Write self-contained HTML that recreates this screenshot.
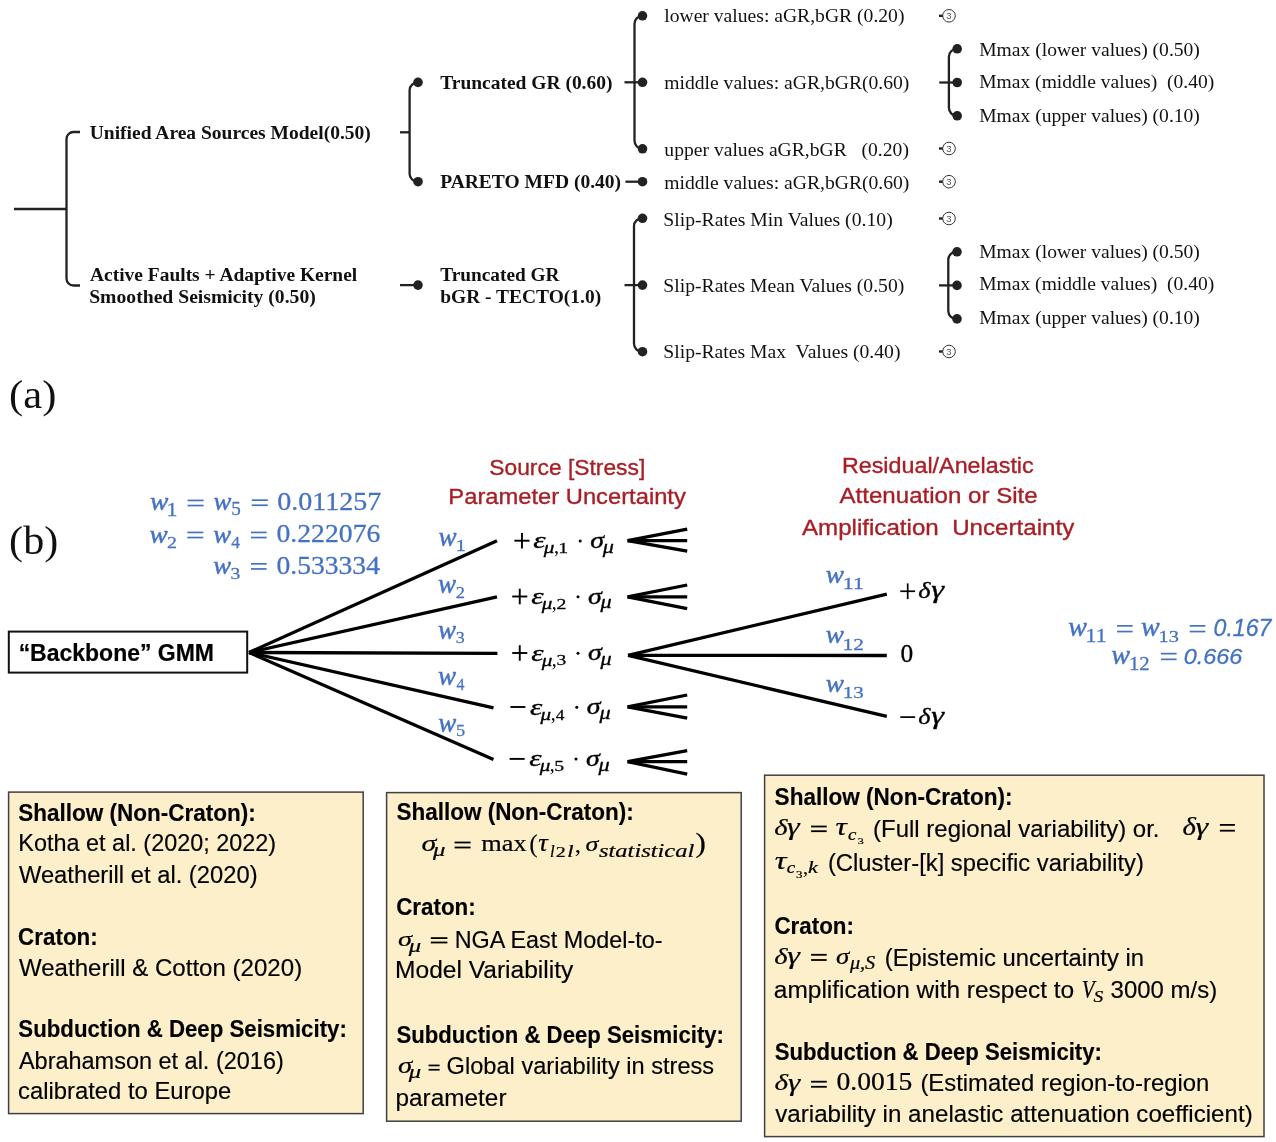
<!DOCTYPE html>
<html><head><meta charset="utf-8"><style>
html,body{margin:0;padding:0;background:#fff;overflow:hidden;}
svg{display:block;will-change:transform;}
</style></head><body>
<svg width="1276" height="1142" viewBox="0 0 1276 1142">
<line x1="14" y1="209" x2="66.5" y2="209" stroke="#222" stroke-width="2.3"/>
<path d="M80 132 L73.5 132 A7 7 0 0 0 66.5 139 L66.5 278.5 A7 7 0 0 0 73.5 285.5 L80 285.5" fill="none" stroke="#222" stroke-width="2.3"/>
<text transform="translate(89.71 139.40) scale(1.0012 1)" font-family="Liberation Serif" font-style="normal" font-weight="bold" font-size="19.50" fill="#111" style="white-space:pre">Unified Area Sources Model(0.50)</text>
<text transform="translate(90.01 281.10) scale(0.9986 1)" font-family="Liberation Serif" font-style="normal" font-weight="bold" font-size="19.50" fill="#111" style="white-space:pre">Active Faults + Adaptive Kernel</text>
<text transform="translate(89.17 302.90) scale(1.0086 1)" font-family="Liberation Serif" font-style="normal" font-weight="bold" font-size="19.50" fill="#111" style="white-space:pre">Smoothed Seismicity (0.50)</text>
<line x1="400" y1="132.3" x2="409.6" y2="132.3" stroke="#222" stroke-width="2.3"/>
<path d="M418 82.4 A8 8 0 0 0 409.6 90.4 L409.6 173.7 A8 8 0 0 0 418 181.7" fill="none" stroke="#222" stroke-width="2.3"/>
<circle cx="418" cy="82.4" r="4.8" fill="#222"/>
<circle cx="418" cy="181.7" r="4.8" fill="#222"/>
<line x1="400" y1="285.1" x2="418" y2="285.1" stroke="#222" stroke-width="2.3"/>
<circle cx="418" cy="285.1" r="4.8" fill="#222"/>
<text transform="translate(440.21 89.10) scale(0.9997 1)" font-family="Liberation Serif" font-style="normal" font-weight="bold" font-size="19.50" fill="#111" style="white-space:pre">Truncated GR (0.60)</text>
<text transform="translate(440.16 188.20) scale(1.0017 1)" font-family="Liberation Serif" font-style="normal" font-weight="bold" font-size="19.50" fill="#111" style="white-space:pre">PARETO MFD (0.40)</text>
<text transform="translate(440.21 280.90) scale(0.9916 1)" font-family="Liberation Serif" font-style="normal" font-weight="bold" font-size="19.50" fill="#111" style="white-space:pre">Truncated GR</text>
<text transform="translate(440.26 303.30) scale(0.9985 1)" font-family="Liberation Serif" font-style="normal" font-weight="bold" font-size="19.50" fill="#111" style="white-space:pre">bGR - TECTO(1.0)</text>
<path d="M642.5 15.8 A8 8 0 0 0 634.5 23.8 L634.5 140.8 A8 8 0 0 0 642.5 148.8" fill="none" stroke="#222" stroke-width="2.3"/>
<circle cx="642.5" cy="15.8" r="4.8" fill="#222"/>
<circle cx="642.5" cy="82.3" r="4.8" fill="#222"/>
<circle cx="642.5" cy="148.8" r="4.8" fill="#222"/>
<line x1="624.5" y1="82.3" x2="642.5" y2="82.3" stroke="#222" stroke-width="2.3"/>
<line x1="625.4" y1="181.7" x2="642.5" y2="181.7" stroke="#222" stroke-width="2.3"/>
<circle cx="642.5" cy="181.7" r="4.8" fill="#222"/>
<path d="M642.5 218.3 A8 8 0 0 0 634 226.3 L634 343.7 A8 8 0 0 0 642.5 351.7" fill="none" stroke="#222" stroke-width="2.3"/>
<circle cx="642.5" cy="218.3" r="4.8" fill="#222"/>
<circle cx="642.5" cy="285.1" r="4.8" fill="#222"/>
<circle cx="642.5" cy="351.7" r="4.8" fill="#222"/>
<line x1="624.5" y1="285.1" x2="642.5" y2="285.1" stroke="#222" stroke-width="2.3"/>
<text transform="translate(664.21 22.40) scale(1.0069 1)" font-family="Liberation Serif" font-style="normal" font-weight="normal" font-size="19.50" fill="#111" style="white-space:pre">lower values: aGR,bGR (0.20)</text>
<text transform="translate(664.21 89.30) scale(1.0071 1)" font-family="Liberation Serif" font-style="normal" font-weight="normal" font-size="19.50" fill="#111" style="white-space:pre">middle values: aGR,bGR(0.60)</text>
<text transform="translate(664.35 155.60) scale(1.0068 1)" font-family="Liberation Serif" font-style="normal" font-weight="normal" font-size="19.50" fill="#111" style="white-space:pre">upper values aGR,bGR   (0.20)</text>
<text transform="translate(664.21 188.50) scale(1.0071 1)" font-family="Liberation Serif" font-style="normal" font-weight="normal" font-size="19.50" fill="#111" style="white-space:pre">middle values: aGR,bGR(0.60)</text>
<text transform="translate(663.27 225.70) scale(1.0106 1)" font-family="Liberation Serif" font-style="normal" font-weight="normal" font-size="19.50" fill="#111" style="white-space:pre">Slip-Rates Min Values (0.10)</text>
<text transform="translate(663.27 292.00) scale(1.0088 1)" font-family="Liberation Serif" font-style="normal" font-weight="normal" font-size="19.50" fill="#111" style="white-space:pre">Slip-Rates Mean Values (0.50)</text>
<text transform="translate(663.27 358.20) scale(1.0085 1)" font-family="Liberation Serif" font-style="normal" font-weight="normal" font-size="19.50" fill="#111" style="white-space:pre">Slip-Rates Max  Values (0.40)</text>
<circle cx="949" cy="15.8" r="6.3" fill="#fff" stroke="#333" stroke-width="1"/>
<line x1="939" y1="15.8" x2="942.7" y2="15.8" stroke="#222" stroke-width="2.4"/>
<text x="949" y="19.1" text-anchor="middle" font-family="Liberation Sans" font-size="9.5" fill="#555">3</text>
<circle cx="949" cy="148.5" r="6.3" fill="#fff" stroke="#333" stroke-width="1"/>
<line x1="939" y1="148.5" x2="942.7" y2="148.5" stroke="#222" stroke-width="2.4"/>
<text x="949" y="151.8" text-anchor="middle" font-family="Liberation Sans" font-size="9.5" fill="#555">3</text>
<circle cx="949" cy="181.7" r="6.3" fill="#fff" stroke="#333" stroke-width="1"/>
<line x1="939" y1="181.7" x2="942.7" y2="181.7" stroke="#222" stroke-width="2.4"/>
<text x="949" y="185.0" text-anchor="middle" font-family="Liberation Sans" font-size="9.5" fill="#555">3</text>
<circle cx="949" cy="218.5" r="6.3" fill="#fff" stroke="#333" stroke-width="1"/>
<line x1="939" y1="218.5" x2="942.7" y2="218.5" stroke="#222" stroke-width="2.4"/>
<text x="949" y="221.8" text-anchor="middle" font-family="Liberation Sans" font-size="9.5" fill="#555">3</text>
<circle cx="949" cy="351.5" r="6.3" fill="#fff" stroke="#333" stroke-width="1"/>
<line x1="939" y1="351.5" x2="942.7" y2="351.5" stroke="#222" stroke-width="2.4"/>
<text x="949" y="354.8" text-anchor="middle" font-family="Liberation Sans" font-size="9.5" fill="#555">3</text>
<path d="M957.2 48.8 A8 8 0 0 0 948.9 56.8 L948.9 107.8 A8 8 0 0 0 957.2 115.8" fill="none" stroke="#222" stroke-width="2.3"/>
<circle cx="957.2" cy="48.8" r="4.8" fill="#222"/>
<circle cx="957.2" cy="82.5" r="4.8" fill="#222"/>
<circle cx="957.2" cy="115.8" r="4.8" fill="#222"/>
<line x1="939.3" y1="82.5" x2="957.2" y2="82.5" stroke="#222" stroke-width="2.3"/>
<path d="M957 251.8 A8 8 0 0 0 948.3 259.8 L948.3 310.9 A8 8 0 0 0 957 318.9" fill="none" stroke="#222" stroke-width="2.3"/>
<circle cx="957" cy="251.8" r="4.8" fill="#222"/>
<circle cx="957" cy="285.4" r="4.8" fill="#222"/>
<circle cx="957" cy="318.9" r="4.8" fill="#222"/>
<line x1="939" y1="285.4" x2="957" y2="285.4" stroke="#222" stroke-width="2.3"/>
<text transform="translate(979.21 55.60) scale(1.0041 1)" font-family="Liberation Serif" font-style="normal" font-weight="normal" font-size="19.50" fill="#111" style="white-space:pre">Mmax (lower values) (0.50)</text>
<text transform="translate(979.21 88.20) scale(1.0029 1)" font-family="Liberation Serif" font-style="normal" font-weight="normal" font-size="19.50" fill="#111" style="white-space:pre">Mmax (middle values)  (0.40)</text>
<text transform="translate(979.21 122.10) scale(1.0041 1)" font-family="Liberation Serif" font-style="normal" font-weight="normal" font-size="19.50" fill="#111" style="white-space:pre">Mmax (upper values) (0.10)</text>
<text transform="translate(979.21 257.80) scale(1.0041 1)" font-family="Liberation Serif" font-style="normal" font-weight="normal" font-size="19.50" fill="#111" style="white-space:pre">Mmax (lower values) (0.50)</text>
<text transform="translate(979.21 290.40) scale(1.0029 1)" font-family="Liberation Serif" font-style="normal" font-weight="normal" font-size="19.50" fill="#111" style="white-space:pre">Mmax (middle values)  (0.40)</text>
<text transform="translate(979.21 324.30) scale(1.0041 1)" font-family="Liberation Serif" font-style="normal" font-weight="normal" font-size="19.50" fill="#111" style="white-space:pre">Mmax (upper values) (0.10)</text>
<text transform="translate(9.08 407.78) scale(1.0517 1)" font-family="Liberation Serif" font-style="normal" font-weight="normal" font-size="40.55" fill="#111">(a)</text>
<text transform="translate(9.10 554.28) scale(1.0391 1)" font-family="Liberation Serif" font-style="normal" font-weight="normal" font-size="40.55" fill="#111">(b)</text>
<text transform="translate(149.91 510.25) scale(1.0885 1)" font-family="Liberation Serif" font-style="italic" font-weight="normal" font-size="25.32" fill="#4472c4" stroke="#4472c4" stroke-width="0.45">w</text>
<text transform="translate(166.49 515.60) scale(1.2115 1)" font-family="Liberation Serif" font-style="normal" font-weight="normal" font-size="18.03" fill="#4472c4" stroke="#4472c4" stroke-width="0.27">1</text>
<rect x="187.60" y="499.60" width="16.00" height="1.70" fill="#4472c4"/><rect x="187.60" y="504.70" width="16.00" height="1.70" fill="#4472c4"/>
<text transform="translate(213.43 510.25) scale(1.0574 1)" font-family="Liberation Serif" font-style="italic" font-weight="normal" font-size="25.32" fill="#4472c4" stroke="#4472c4" stroke-width="0.45">w</text>
<text transform="translate(231.30 515.42) scale(1.0691 1)" font-family="Liberation Serif" font-style="normal" font-weight="normal" font-size="17.89" fill="#4472c4" stroke="#4472c4" stroke-width="0.27">5</text>
<rect x="251.80" y="499.30" width="16.00" height="1.70" fill="#4472c4"/><rect x="251.80" y="504.40" width="16.00" height="1.70" fill="#4472c4"/>
<text transform="translate(277.25 510.03) scale(1.1352 1)" font-family="Liberation Serif" font-style="normal" font-weight="normal" font-size="24.71" fill="#4472c4" stroke="#4472c4" stroke-width="0.27">0.011257</text>
<text transform="translate(149.52 542.75) scale(1.1039 1)" font-family="Liberation Serif" font-style="italic" font-weight="normal" font-size="24.68" fill="#4472c4" stroke="#4472c4" stroke-width="0.45">w</text>
<text transform="translate(166.90 548.20) scale(1.1422 1)" font-family="Liberation Serif" font-style="normal" font-weight="normal" font-size="17.51" fill="#4472c4" stroke="#4472c4" stroke-width="0.27">2</text>
<rect x="187.30" y="531.60" width="16.00" height="1.70" fill="#4472c4"/><rect x="187.30" y="536.70" width="16.00" height="1.70" fill="#4472c4"/>
<text transform="translate(213.23 542.75) scale(1.0847 1)" font-family="Liberation Serif" font-style="italic" font-weight="normal" font-size="24.68" fill="#4472c4" stroke="#4472c4" stroke-width="0.45">w</text>
<text transform="translate(231.15 548.20) scale(0.9873 1)" font-family="Liberation Serif" font-style="normal" font-weight="normal" font-size="17.64" fill="#4472c4" stroke="#4472c4" stroke-width="0.27">4</text>
<rect x="251.00" y="531.60" width="15.60" height="1.70" fill="#4472c4"/><rect x="251.00" y="536.70" width="15.60" height="1.70" fill="#4472c4"/>
<text transform="translate(276.46 542.43) scale(1.1090 1)" font-family="Liberation Serif" font-style="normal" font-weight="normal" font-size="25.00" fill="#4472c4" stroke="#4472c4" stroke-width="0.27">0.222076</text>
<text transform="translate(213.23 574.26) scale(1.0941 1)" font-family="Liberation Serif" font-style="italic" font-weight="normal" font-size="24.47" fill="#4472c4" stroke="#4472c4" stroke-width="0.45">w</text>
<text transform="translate(230.57 579.42) scale(1.1191 1)" font-family="Liberation Serif" font-style="normal" font-weight="normal" font-size="17.55" fill="#4472c4" stroke="#4472c4" stroke-width="0.27">3</text>
<rect x="251.00" y="563.00" width="15.60" height="1.70" fill="#4472c4"/><rect x="251.00" y="568.10" width="15.60" height="1.70" fill="#4472c4"/>
<text transform="translate(276.46 574.23) scale(1.1177 1)" font-family="Liberation Serif" font-style="normal" font-weight="normal" font-size="24.71" fill="#4472c4" stroke="#4472c4" stroke-width="0.27">0.533334</text>
<text transform="translate(489.27 474.70) scale(1.0146 1)" font-family="Liberation Sans" font-style="normal" font-weight="normal" font-size="22.50" fill="#a81e25" stroke="#a81e25" stroke-width="0.35" style="white-space:pre">Source [Stress]</text>
<text transform="translate(448.34 504.30) scale(1.0554 1)" font-family="Liberation Sans" font-style="normal" font-weight="normal" font-size="22.50" fill="#a81e25" stroke="#a81e25" stroke-width="0.35" style="white-space:pre">Parameter Uncertainty</text>
<text transform="translate(841.88 472.70) scale(1.0370 1)" font-family="Liberation Sans" font-style="normal" font-weight="normal" font-size="22.50" fill="#a81e25" stroke="#a81e25" stroke-width="0.35" style="white-space:pre">Residual/Anelastic</text>
<text transform="translate(839.54 503.30) scale(1.0709 1)" font-family="Liberation Sans" font-style="normal" font-weight="normal" font-size="22.50" fill="#a81e25" stroke="#a81e25" stroke-width="0.35" style="white-space:pre">Attenuation or Site</text>
<text transform="translate(801.94 535.00) scale(1.0731 1)" font-family="Liberation Sans" font-style="normal" font-weight="normal" font-size="22.50" fill="#a81e25" stroke="#a81e25" stroke-width="0.35" style="white-space:pre">Amplification  Uncertainty</text>
<rect x="8.8" y="631.6" width="238.4" height="41" fill="#fff" stroke="#111" stroke-width="2"/>
<text transform="translate(18.63 660.50) scale(0.9785 1)" font-family="Liberation Sans" font-style="normal" font-weight="bold" font-size="23.50" fill="#000" stroke="#000" stroke-width="0.2" style="white-space:pre">“Backbone” GMM</text>
<line x1="249" y1="652.5" x2="497" y2="540.8" stroke="#000" stroke-width="3.3"/>
<line x1="249" y1="652.5" x2="497" y2="596.9" stroke="#000" stroke-width="3.3"/>
<line x1="249" y1="652.5" x2="497.4" y2="653.4" stroke="#000" stroke-width="3.3"/>
<line x1="249" y1="652.5" x2="493.5" y2="707.8" stroke="#000" stroke-width="3.3"/>
<line x1="249" y1="652.5" x2="493.5" y2="759.4" stroke="#000" stroke-width="3.3"/>
<text transform="translate(438.62 546.03) scale(1.0024 1)" font-family="Liberation Serif" font-style="italic" font-weight="normal" font-size="27.02" fill="#4472c4" stroke="#4472c4" stroke-width="0.45">w</text>
<text transform="translate(455.46 551.00) scale(1.2048 1)" font-family="Liberation Serif" font-style="normal" font-weight="normal" font-size="17.42" fill="#4472c4" stroke="#4472c4" stroke-width="0.27">1</text>
<text transform="translate(437.92 593.03) scale(1.0024 1)" font-family="Liberation Serif" font-style="italic" font-weight="normal" font-size="27.02" fill="#4472c4" stroke="#4472c4" stroke-width="0.45">w</text>
<text transform="translate(455.77 598.00) scale(1.0658 1)" font-family="Liberation Serif" font-style="normal" font-weight="normal" font-size="17.36" fill="#4472c4" stroke="#4472c4" stroke-width="0.27">2</text>
<text transform="translate(437.92 638.53) scale(1.0024 1)" font-family="Liberation Serif" font-style="italic" font-weight="normal" font-size="27.02" fill="#4472c4" stroke="#4472c4" stroke-width="0.45">w</text>
<text transform="translate(455.75 643.33) scale(1.0491 1)" font-family="Liberation Serif" font-style="normal" font-weight="normal" font-size="17.10" fill="#4472c4" stroke="#4472c4" stroke-width="0.27">3</text>
<text transform="translate(438.12 684.63) scale(1.0024 1)" font-family="Liberation Serif" font-style="italic" font-weight="normal" font-size="27.02" fill="#4472c4" stroke="#4472c4" stroke-width="0.45">w</text>
<text transform="translate(456.48 689.60) scale(0.9099 1)" font-family="Liberation Serif" font-style="normal" font-weight="normal" font-size="17.49" fill="#4472c4" stroke="#4472c4" stroke-width="0.27">4</text>
<text transform="translate(438.32 731.53) scale(1.0024 1)" font-family="Liberation Serif" font-style="italic" font-weight="normal" font-size="27.02" fill="#4472c4" stroke="#4472c4" stroke-width="0.45">w</text>
<text transform="translate(455.94 736.33) scale(1.0631 1)" font-family="Liberation Serif" font-style="normal" font-weight="normal" font-size="17.29" fill="#4472c4" stroke="#4472c4" stroke-width="0.27">5</text>
<rect x="514.40" y="539.75" width="15.10" height="1.90" fill="#000"/><rect x="521.00" y="532.90" width="1.90" height="15.60" fill="#000"/>
<text transform="translate(533.34 548.26) scale(1.3000 1)" font-family="Liberation Serif" font-style="italic" font-weight="normal" font-size="23.96" fill="#000" stroke="#000" stroke-width="0.35">ε</text>
<text transform="translate(543.85 553.20) scale(1.3000 1)" font-family="Liberation Serif" font-style="italic" font-weight="normal" font-size="16.30" fill="#000" stroke="#000" stroke-width="0.3">μ</text>
<text transform="translate(554.05 553.25) scale(1.0000 1)" font-family="Liberation Serif" font-style="normal" font-weight="normal" font-size="20.00" fill="#000">,</text>
<text transform="translate(558.30 553.20) scale(1.3000 1)" font-family="Liberation Serif" font-style="normal" font-weight="normal" font-size="15.30" fill="#000" stroke="#000" stroke-width="0.25">1</text>
<circle cx="580.20" cy="540.90" r="1.5" fill="#000"/>
<text transform="translate(590.16 547.98) scale(1.2618 1)" font-family="Liberation Serif" font-style="italic" font-weight="normal" font-size="22.10" fill="#000" stroke="#000" stroke-width="0.35">σ</text>
<text transform="translate(602.80 552.55) scale(1.2110 1)" font-family="Liberation Serif" font-style="italic" font-weight="normal" font-size="18.37" fill="#000" stroke="#000" stroke-width="0.3">μ</text>
<rect x="512.20" y="595.55" width="15.10" height="1.90" fill="#000"/><rect x="518.80" y="588.70" width="1.90" height="15.60" fill="#000"/>
<text transform="translate(531.14 604.06) scale(1.3000 1)" font-family="Liberation Serif" font-style="italic" font-weight="normal" font-size="23.96" fill="#000" stroke="#000" stroke-width="0.35">ε</text>
<text transform="translate(541.65 609.00) scale(1.3000 1)" font-family="Liberation Serif" font-style="italic" font-weight="normal" font-size="16.30" fill="#000" stroke="#000" stroke-width="0.3">μ</text>
<text transform="translate(551.85 609.05) scale(1.0000 1)" font-family="Liberation Serif" font-style="normal" font-weight="normal" font-size="20.00" fill="#000">,</text>
<text transform="translate(556.49 609.00) scale(1.3000 1)" font-family="Liberation Serif" font-style="normal" font-weight="normal" font-size="15.25" fill="#000" stroke="#000" stroke-width="0.25">2</text>
<circle cx="578.00" cy="596.70" r="1.5" fill="#000"/>
<text transform="translate(587.96 603.78) scale(1.2618 1)" font-family="Liberation Serif" font-style="italic" font-weight="normal" font-size="22.10" fill="#000" stroke="#000" stroke-width="0.35">σ</text>
<text transform="translate(600.60 608.35) scale(1.2110 1)" font-family="Liberation Serif" font-style="italic" font-weight="normal" font-size="18.37" fill="#000" stroke="#000" stroke-width="0.3">μ</text>
<rect x="512.20" y="652.05" width="15.10" height="1.90" fill="#000"/><rect x="518.80" y="645.20" width="1.90" height="15.60" fill="#000"/>
<text transform="translate(531.14 660.56) scale(1.3000 1)" font-family="Liberation Serif" font-style="italic" font-weight="normal" font-size="23.96" fill="#000" stroke="#000" stroke-width="0.35">ε</text>
<text transform="translate(541.65 665.50) scale(1.3000 1)" font-family="Liberation Serif" font-style="italic" font-weight="normal" font-size="16.30" fill="#000" stroke="#000" stroke-width="0.3">μ</text>
<text transform="translate(551.85 665.55) scale(1.0000 1)" font-family="Liberation Serif" font-style="normal" font-weight="normal" font-size="20.00" fill="#000">,</text>
<text transform="translate(556.40 665.35) scale(1.3000 1)" font-family="Liberation Serif" font-style="normal" font-weight="normal" font-size="15.02" fill="#000" stroke="#000" stroke-width="0.25">3</text>
<circle cx="578.00" cy="653.20" r="1.5" fill="#000"/>
<text transform="translate(587.96 660.28) scale(1.2618 1)" font-family="Liberation Serif" font-style="italic" font-weight="normal" font-size="22.10" fill="#000" stroke="#000" stroke-width="0.35">σ</text>
<text transform="translate(600.60 664.85) scale(1.2110 1)" font-family="Liberation Serif" font-style="italic" font-weight="normal" font-size="18.37" fill="#000" stroke="#000" stroke-width="0.3">μ</text>
<rect x="510.40" y="706.05" width="15.00" height="1.90" fill="#000"/>
<text transform="translate(529.94 714.56) scale(1.3000 1)" font-family="Liberation Serif" font-style="italic" font-weight="normal" font-size="23.96" fill="#000" stroke="#000" stroke-width="0.35">ε</text>
<text transform="translate(540.45 719.50) scale(1.3000 1)" font-family="Liberation Serif" font-style="italic" font-weight="normal" font-size="16.30" fill="#000" stroke="#000" stroke-width="0.3">μ</text>
<text transform="translate(550.65 719.55) scale(1.0000 1)" font-family="Liberation Serif" font-style="normal" font-weight="normal" font-size="20.00" fill="#000">,</text>
<text transform="translate(555.75 719.50) scale(1.1340 1)" font-family="Liberation Serif" font-style="normal" font-weight="normal" font-size="15.36" fill="#000" stroke="#000" stroke-width="0.25">4</text>
<circle cx="576.80" cy="707.20" r="1.5" fill="#000"/>
<text transform="translate(586.76 714.28) scale(1.2618 1)" font-family="Liberation Serif" font-style="italic" font-weight="normal" font-size="22.10" fill="#000" stroke="#000" stroke-width="0.35">σ</text>
<text transform="translate(599.40 718.85) scale(1.2110 1)" font-family="Liberation Serif" font-style="italic" font-weight="normal" font-size="18.37" fill="#000" stroke="#000" stroke-width="0.3">μ</text>
<rect x="509.60" y="757.95" width="15.00" height="1.90" fill="#000"/>
<text transform="translate(529.14 766.46) scale(1.3000 1)" font-family="Liberation Serif" font-style="italic" font-weight="normal" font-size="23.96" fill="#000" stroke="#000" stroke-width="0.35">ε</text>
<text transform="translate(539.65 771.40) scale(1.3000 1)" font-family="Liberation Serif" font-style="italic" font-weight="normal" font-size="16.30" fill="#000" stroke="#000" stroke-width="0.3">μ</text>
<text transform="translate(549.85 771.45) scale(1.0000 1)" font-family="Liberation Serif" font-style="normal" font-weight="normal" font-size="20.00" fill="#000">,</text>
<text transform="translate(554.24 771.25) scale(1.3000 1)" font-family="Liberation Serif" font-style="normal" font-weight="normal" font-size="15.19" fill="#000" stroke="#000" stroke-width="0.25">5</text>
<circle cx="576.00" cy="759.10" r="1.5" fill="#000"/>
<text transform="translate(585.96 766.18) scale(1.2618 1)" font-family="Liberation Serif" font-style="italic" font-weight="normal" font-size="22.10" fill="#000" stroke="#000" stroke-width="0.35">σ</text>
<text transform="translate(598.60 770.75) scale(1.2110 1)" font-family="Liberation Serif" font-style="italic" font-weight="normal" font-size="18.37" fill="#000" stroke="#000" stroke-width="0.3">μ</text>
<line x1="627.6" y1="540.6" x2="687.2" y2="529.2" stroke="#000" stroke-width="3.3"/>
<line x1="627.6" y1="540.6" x2="687.2" y2="540.6" stroke="#000" stroke-width="3.3"/>
<line x1="627.6" y1="540.6" x2="687.2" y2="551.2" stroke="#000" stroke-width="3.3"/>
<line x1="627.6" y1="596.9" x2="687.2" y2="585.0" stroke="#000" stroke-width="3.3"/>
<line x1="627.6" y1="596.9" x2="687.2" y2="596.9" stroke="#000" stroke-width="3.3"/>
<line x1="627.6" y1="596.9" x2="687.2" y2="608.6999999999999" stroke="#000" stroke-width="3.3"/>
<line x1="627.6" y1="706.8" x2="687.2" y2="695.0" stroke="#000" stroke-width="3.3"/>
<line x1="627.6" y1="706.8" x2="687.2" y2="706.8" stroke="#000" stroke-width="3.3"/>
<line x1="627.6" y1="706.8" x2="687.2" y2="718.1999999999999" stroke="#000" stroke-width="3.3"/>
<line x1="627.6" y1="761.7" x2="687.2" y2="750.6" stroke="#000" stroke-width="3.3"/>
<line x1="627.6" y1="761.7" x2="687.2" y2="761.7" stroke="#000" stroke-width="3.3"/>
<line x1="627.6" y1="761.7" x2="687.2" y2="774.2" stroke="#000" stroke-width="3.3"/>
<line x1="628" y1="655.3" x2="886.8" y2="594.1" stroke="#000" stroke-width="3.3"/>
<line x1="628" y1="655.3" x2="886.8" y2="655.5" stroke="#000" stroke-width="3.3"/>
<line x1="628" y1="655.3" x2="886.8" y2="716.4" stroke="#000" stroke-width="3.3"/>
<rect x="900.30" y="590.40" width="14.80" height="1.70" fill="#000"/><rect x="906.85" y="583.40" width="1.70" height="15.70" fill="#000"/>
<text transform="translate(918.31 597.76) scale(1.1105 1)" font-family="Liberation Serif" font-style="italic" font-weight="normal" font-size="23.75" fill="#000" stroke="#000" stroke-width="0.35">δ</text>
<text transform="translate(931.13 598.03) scale(1.2615 1)" font-family="Liberation Serif" font-style="italic" font-weight="normal" font-size="25.72" fill="#000" stroke="#000" stroke-width="0.35">γ</text>
<text transform="translate(900.55 662.15) scale(1.0210 1)" font-family="Liberation Serif" font-style="normal" font-weight="normal" font-size="24.89" fill="#000" stroke="#000" stroke-width="0.3">0</text>
<rect x="900.30" y="716.25" width="14.80" height="1.70" fill="#000"/>
<text transform="translate(918.31 723.56) scale(1.1171 1)" font-family="Liberation Serif" font-style="italic" font-weight="normal" font-size="23.60" fill="#000" stroke="#000" stroke-width="0.35">δ</text>
<text transform="translate(931.13 723.83) scale(1.2615 1)" font-family="Liberation Serif" font-style="italic" font-weight="normal" font-size="25.72" fill="#000" stroke="#000" stroke-width="0.35">γ</text>
<text transform="translate(825.72 582.94) scale(1.0671 1)" font-family="Liberation Serif" font-style="italic" font-weight="normal" font-size="25.53" fill="#4472c4" stroke="#4472c4" stroke-width="0.45">w</text>
<text transform="translate(842.78 589.00) scale(1.3000 1)" font-family="Liberation Serif" font-style="normal" font-weight="normal" font-size="16.97" fill="#4472c4" stroke="#4472c4" stroke-width="0.27">11</text>
<text transform="translate(825.72 643.44) scale(1.0671 1)" font-family="Liberation Serif" font-style="italic" font-weight="normal" font-size="25.53" fill="#4472c4" stroke="#4472c4" stroke-width="0.45">w</text>
<text transform="translate(842.62 649.50) scale(1.2693 1)" font-family="Liberation Serif" font-style="normal" font-weight="normal" font-size="16.91" fill="#4472c4" stroke="#4472c4" stroke-width="0.27">12</text>
<text transform="translate(825.72 692.34) scale(1.0671 1)" font-family="Liberation Serif" font-style="italic" font-weight="normal" font-size="25.53" fill="#4472c4" stroke="#4472c4" stroke-width="0.45">w</text>
<text transform="translate(842.65 698.23) scale(1.2663 1)" font-family="Liberation Serif" font-style="normal" font-weight="normal" font-size="16.65" fill="#4472c4" stroke="#4472c4" stroke-width="0.27">13</text>
<text transform="translate(1068.20 636.43) scale(1.0293 1)" font-family="Liberation Serif" font-style="italic" font-weight="normal" font-size="27.23" fill="#4472c4" stroke="#4472c4" stroke-width="0.45">w</text>
<text transform="translate(1085.59 641.80) scale(1.2113 1)" font-family="Liberation Serif" font-style="normal" font-weight="normal" font-size="18.03" fill="#4472c4" stroke="#4472c4" stroke-width="0.27">11</text>
<rect x="1117.00" y="625.00" width="15.60" height="1.70" fill="#4472c4"/><rect x="1117.00" y="630.70" width="15.60" height="1.70" fill="#4472c4"/>
<text transform="translate(1141.00 636.43) scale(1.0293 1)" font-family="Liberation Serif" font-style="italic" font-weight="normal" font-size="27.23" fill="#4472c4" stroke="#4472c4" stroke-width="0.45">w</text>
<text transform="translate(1158.51 641.62) scale(1.1529 1)" font-family="Liberation Serif" font-style="normal" font-weight="normal" font-size="17.70" fill="#4472c4" stroke="#4472c4" stroke-width="0.27">13</text>
<rect x="1189.70" y="625.00" width="15.70" height="1.70" fill="#4472c4"/><rect x="1189.70" y="630.70" width="15.70" height="1.70" fill="#4472c4"/>
<text transform="translate(1213.52 636.46) scale(0.9742 1)" font-family="Liberation Sans" font-style="italic" font-weight="normal" font-size="23.75" fill="#4472c4" stroke="#4472c4" stroke-width="0.3">0.167</text>
<text transform="translate(1111.30 664.33) scale(1.0432 1)" font-family="Liberation Serif" font-style="italic" font-weight="normal" font-size="27.02" fill="#4472c4" stroke="#4472c4" stroke-width="0.45">w</text>
<text transform="translate(1128.88 669.70) scale(1.1556 1)" font-family="Liberation Serif" font-style="normal" font-weight="normal" font-size="17.96" fill="#4472c4" stroke="#4472c4" stroke-width="0.27">12</text>
<rect x="1161.00" y="652.80" width="15.60" height="1.70" fill="#4472c4"/><rect x="1161.00" y="658.50" width="15.60" height="1.70" fill="#4472c4"/>
<text transform="translate(1183.80 664.38) scale(1.0419 1)" font-family="Liberation Sans" font-style="italic" font-weight="normal" font-size="22.47" fill="#4472c4" stroke="#4472c4" stroke-width="0.3">0.666</text>
<rect x="8.6" y="792.1" width="354.6" height="321.5" fill="#fcefc9" stroke="#404040" stroke-width="1.5"/>
<rect x="386.6" y="792.6" width="354.6" height="328.6" fill="#fcefc9" stroke="#404040" stroke-width="1.5"/>
<rect x="764.6" y="775.2" width="499.4" height="361.4" fill="#fcefc9" stroke="#404040" stroke-width="1.5"/>
<text transform="translate(18.33 820.60) scale(0.9656 1)" font-family="Liberation Sans" font-style="normal" font-weight="bold" font-size="23.30" fill="#000" stroke="#000" stroke-width="0.15" style="white-space:pre">Shallow (Non-Craton):</text>
<text transform="translate(18.37 851.10) scale(1.0052 1)" font-family="Liberation Sans" font-style="normal" font-weight="normal" font-size="23.30" fill="#000" stroke="#000" stroke-width="0.15" style="white-space:pre">Kotha et al. (2020; 2022)</text>
<text transform="translate(18.88 882.50) scale(1.0206 1)" font-family="Liberation Sans" font-style="normal" font-weight="normal" font-size="23.30" fill="#000" stroke="#000" stroke-width="0.15" style="white-space:pre">Weatherill et al. (2020)</text>
<text transform="translate(18.10 945.00) scale(0.9613 1)" font-family="Liberation Sans" font-style="normal" font-weight="bold" font-size="23.30" fill="#000" stroke="#000" stroke-width="0.15" style="white-space:pre">Craton:</text>
<text transform="translate(18.88 975.70) scale(1.0339 1)" font-family="Liberation Sans" font-style="normal" font-weight="normal" font-size="23.30" fill="#000" stroke="#000" stroke-width="0.15" style="white-space:pre">Weatherill &amp; Cotton (2020)</text>
<text transform="translate(18.33 1037.20) scale(0.9541 1)" font-family="Liberation Sans" font-style="normal" font-weight="bold" font-size="23.30" fill="#000" stroke="#000" stroke-width="0.15" style="white-space:pre">Subduction &amp; Deep Seismicity:</text>
<text transform="translate(18.94 1068.50) scale(1.0079 1)" font-family="Liberation Sans" font-style="normal" font-weight="normal" font-size="23.30" fill="#000" stroke="#000" stroke-width="0.15" style="white-space:pre">Abrahamson et al. (2016)</text>
<text transform="translate(17.99 1098.60) scale(1.0233 1)" font-family="Liberation Sans" font-style="normal" font-weight="normal" font-size="23.30" fill="#000" stroke="#000" stroke-width="0.15" style="white-space:pre">calibrated to Europe</text>
<text transform="translate(396.43 820.20) scale(0.9656 1)" font-family="Liberation Sans" font-style="normal" font-weight="bold" font-size="23.30" fill="#000" stroke="#000" stroke-width="0.15" style="white-space:pre">Shallow (Non-Craton):</text>
<text transform="translate(421.39 851.07) scale(1.3000 1)" font-family="Liberation Serif" font-style="italic" font-weight="normal" font-size="23.05" fill="#000" stroke="#000" stroke-width="0.22">σ</text>
<text transform="translate(433.04 856.12) scale(1.3000 1)" font-family="Liberation Serif" font-style="italic" font-weight="normal" font-size="18.96" fill="#000" stroke="#000" stroke-width="0.22">μ</text>
<rect x="454.60" y="841.60" width="16.00" height="1.80" fill="#000"/><rect x="454.60" y="846.60" width="16.00" height="1.80" fill="#000"/>
<text transform="translate(481.27 851.07) scale(1.1595 1)" font-family="Liberation Serif" font-style="normal" font-weight="normal" font-size="22.71" fill="#000" stroke="#000" stroke-width="0.22">max</text>
<text transform="translate(529.52 851.76) scale(0.9173 1)" font-family="Liberation Serif" font-style="normal" font-weight="normal" font-size="26.08" fill="#000" stroke="#000" stroke-width="0.22">(</text>
<text transform="translate(538.20 851.25) scale(1.0585 1)" font-family="Liberation Serif" font-style="italic" font-weight="normal" font-size="25.11" fill="#000" stroke="#000" stroke-width="0.22">τ</text>
<text transform="translate(550.12 856.80) scale(0.9644 1)" font-family="Liberation Serif" font-style="italic" font-weight="normal" font-size="17.41" fill="#000" stroke="#000" stroke-width="0.22">l</text>
<text transform="translate(555.80 856.80) scale(1.2990 1)" font-family="Liberation Serif" font-style="normal" font-weight="normal" font-size="15.40" fill="#000" stroke="#000" stroke-width="0.22">2</text>
<text transform="translate(567.17 856.80) scale(1.3000 1)" font-family="Liberation Serif" font-style="italic" font-weight="normal" font-size="17.41" fill="#000" stroke="#000" stroke-width="0.22">l</text>
<text transform="translate(574.85 851.87) scale(1.0949 1)" font-family="Liberation Serif" font-style="normal" font-weight="normal" font-size="23.14" fill="#000">,</text>
<text transform="translate(585.38 850.60) scale(1.3000 1)" font-family="Liberation Serif" font-style="italic" font-weight="normal" font-size="20.00" fill="#000" stroke="#000" stroke-width="0.22">σ</text>
<text transform="translate(598.99 856.91) scale(1.2615 1)" font-family="Liberation Serif" font-style="italic" font-weight="normal" font-size="19.43" fill="#000" stroke="#000" stroke-width="0.22">statistical</text>
<text transform="translate(695.39 851.92) scale(1.1618 1)" font-family="Liberation Serif" font-style="normal" font-weight="normal" font-size="26.74" fill="#000" stroke="#000" stroke-width="0.22">)</text>
<text transform="translate(396.21 914.80) scale(0.9600 1)" font-family="Liberation Sans" font-style="normal" font-weight="bold" font-size="23.30" fill="#000" stroke="#000" stroke-width="0.15" style="white-space:pre">Craton:</text>
<text transform="translate(398.00 946.08) scale(1.3000 1)" font-family="Liberation Serif" font-style="italic" font-weight="normal" font-size="21.90" fill="#000" stroke="#000" stroke-width="0.22">σ</text>
<text transform="translate(408.64 951.72) scale(1.3000 1)" font-family="Liberation Serif" font-style="italic" font-weight="normal" font-size="18.96" fill="#000" stroke="#000" stroke-width="0.22">μ</text>
<rect x="430.80" y="937.20" width="16.60" height="1.80" fill="#000"/><rect x="430.80" y="941.60" width="16.60" height="1.80" fill="#000"/>
<text transform="translate(454.67 947.70) scale(1.0034 1)" font-family="Liberation Sans" font-style="normal" font-weight="normal" font-size="23.30" fill="#000" stroke="#000" stroke-width="0.15" style="white-space:pre">NGA East Model-to-</text>
<text transform="translate(395.07 978.20) scale(1.0536 1)" font-family="Liberation Sans" font-style="normal" font-weight="normal" font-size="23.30" fill="#000" stroke="#000" stroke-width="0.15" style="white-space:pre">Model Variability</text>
<text transform="translate(396.43 1042.80) scale(0.9515 1)" font-family="Liberation Sans" font-style="normal" font-weight="bold" font-size="23.30" fill="#000" stroke="#000" stroke-width="0.15" style="white-space:pre">Subduction &amp; Deep Seismicity:</text>
<text transform="translate(397.93 1072.58) scale(1.3000 1)" font-family="Liberation Serif" font-style="italic" font-weight="normal" font-size="22.10" fill="#000" stroke="#000" stroke-width="0.22">σ</text>
<text transform="translate(408.64 1078.12) scale(1.3000 1)" font-family="Liberation Serif" font-style="italic" font-weight="normal" font-size="18.96" fill="#000" stroke="#000" stroke-width="0.22">μ</text>
<rect x="428.60" y="1064.60" width="11.00" height="1.70" fill="#000"/><rect x="428.60" y="1068.90" width="11.00" height="1.70" fill="#000"/>
<text transform="translate(446.62 1074.10) scale(1.0136 1)" font-family="Liberation Sans" font-style="normal" font-weight="normal" font-size="23.30" fill="#000" stroke="#000" stroke-width="0.15" style="white-space:pre">Global variability in stress</text>
<text transform="translate(395.52 1105.70) scale(1.0454 1)" font-family="Liberation Sans" font-style="normal" font-weight="normal" font-size="23.30" fill="#000" stroke="#000" stroke-width="0.15" style="white-space:pre">parameter</text>
<text transform="translate(774.62 805.30) scale(0.9681 1)" font-family="Liberation Sans" font-style="normal" font-weight="bold" font-size="23.30" fill="#000" stroke="#000" stroke-width="0.15" style="white-space:pre">Shallow (Non-Craton):</text>
<text transform="translate(774.24 834.57) scale(1.2191 1)" font-family="Liberation Serif" font-style="italic" font-weight="normal" font-size="23.46" fill="#000" stroke="#000" stroke-width="0.22">δ</text>
<text transform="translate(787.01 835.25) scale(1.3000 1)" font-family="Liberation Serif" font-style="italic" font-weight="normal" font-size="24.68" fill="#000" stroke="#000" stroke-width="0.22">γ</text>
<rect x="811.10" y="825.60" width="15.60" height="1.80" fill="#000"/><rect x="811.10" y="830.30" width="15.60" height="1.80" fill="#000"/>
<text transform="translate(835.49 834.56) scale(1.2990 1)" font-family="Liberation Serif" font-style="italic" font-weight="normal" font-size="24.26" fill="#000" stroke="#000" stroke-width="0.22">τ</text>
<text transform="translate(847.93 840.33) scale(1.1053 1)" font-family="Liberation Serif" font-style="italic" font-weight="normal" font-size="17.08" fill="#000" stroke="#000" stroke-width="0.22">c</text>
<text transform="translate(857.71 844.11) scale(1.3000 1)" font-family="Liberation Serif" font-style="normal" font-weight="normal" font-size="9.22" fill="#000" stroke="#000" stroke-width="0.2">3</text>
<text transform="translate(873.10 837.10) scale(1.0294 1)" font-family="Liberation Sans" font-style="normal" font-weight="normal" font-size="23.30" fill="#000" stroke="#000" stroke-width="0.15" style="white-space:pre">(Full regional variability) or.</text>
<text transform="translate(1182.54 835.15) scale(1.1394 1)" font-family="Liberation Serif" font-style="italic" font-weight="normal" font-size="25.30" fill="#000" stroke="#000" stroke-width="0.22">δ</text>
<text transform="translate(1195.47 835.02) scale(1.3000 1)" font-family="Liberation Serif" font-style="italic" font-weight="normal" font-size="24.83" fill="#000" stroke="#000" stroke-width="0.22">γ</text>
<rect x="1219.90" y="824.00" width="15.00" height="1.80" fill="#000"/><rect x="1219.90" y="829.80" width="15.00" height="1.80" fill="#000"/>
<text transform="translate(774.87 868.85) scale(1.2986 1)" font-family="Liberation Serif" font-style="italic" font-weight="normal" font-size="25.11" fill="#000" stroke="#000" stroke-width="0.22">τ</text>
<text transform="translate(786.73 873.23) scale(1.1198 1)" font-family="Liberation Serif" font-style="italic" font-weight="normal" font-size="17.08" fill="#000" stroke="#000" stroke-width="0.22">c</text>
<text transform="translate(796.11 877.50) scale(1.3000 1)" font-family="Liberation Serif" font-style="normal" font-weight="normal" font-size="9.96" fill="#000" stroke="#000" stroke-width="0.2">3</text>
<text transform="translate(802.77 874.01) scale(1.1220 1)" font-family="Liberation Serif" font-style="normal" font-weight="normal" font-size="19.61" fill="#000">,</text>
<text transform="translate(808.07 873.40) scale(1.3000 1)" font-family="Liberation Serif" font-style="italic" font-weight="normal" font-size="17.12" fill="#000" stroke="#000" stroke-width="0.22">k</text>
<text transform="translate(827.91 870.60) scale(1.0215 1)" font-family="Liberation Sans" font-style="normal" font-weight="normal" font-size="23.30" fill="#000" stroke="#000" stroke-width="0.15" style="white-space:pre">(Cluster-[k] specific variability)</text>
<text transform="translate(774.41 934.20) scale(0.9600 1)" font-family="Liberation Sans" font-style="normal" font-weight="bold" font-size="23.30" fill="#000" stroke="#000" stroke-width="0.15" style="white-space:pre">Craton:</text>
<text transform="translate(774.24 964.26) scale(1.1904 1)" font-family="Liberation Serif" font-style="italic" font-weight="normal" font-size="24.03" fill="#000" stroke="#000" stroke-width="0.22">δ</text>
<text transform="translate(787.24 964.30) scale(1.2664 1)" font-family="Liberation Serif" font-style="italic" font-weight="normal" font-size="25.43" fill="#000" stroke="#000" stroke-width="0.22">γ</text>
<rect x="811.10" y="953.90" width="15.60" height="1.80" fill="#000"/><rect x="811.10" y="959.10" width="15.60" height="1.80" fill="#000"/>
<text transform="translate(835.89 964.27) scale(1.1854 1)" font-family="Liberation Serif" font-style="italic" font-weight="normal" font-size="22.67" fill="#000" stroke="#000" stroke-width="0.22">σ</text>
<text transform="translate(849.90 969.15) scale(1.1314 1)" font-family="Liberation Serif" font-style="italic" font-weight="normal" font-size="17.89" fill="#000" stroke="#000" stroke-width="0.22">μ,S</text>
<text transform="translate(884.81 965.90) scale(1.0214 1)" font-family="Liberation Sans" font-style="normal" font-weight="normal" font-size="23.30" fill="#000" stroke="#000" stroke-width="0.15" style="white-space:pre">(Epistemic uncertainty in</text>
<text transform="translate(773.86 998.00) scale(1.0500 1)" font-family="Liberation Sans" font-style="normal" font-weight="normal" font-size="23.30" fill="#000" stroke="#000" stroke-width="0.15" style="white-space:pre">amplification with respect to</text>
<text transform="translate(1081.65 997.53) scale(0.8500 1)" font-family="Liberation Serif" font-style="italic" font-weight="normal" font-size="24.63" fill="#000" stroke="#000" stroke-width="0.22">V</text>
<text transform="translate(1093.46 1002.43) scale(1.1753 1)" font-family="Liberation Serif" font-style="italic" font-weight="normal" font-size="16.65" fill="#000" stroke="#000" stroke-width="0.22">S</text>
<text transform="translate(1110.60 998.00) scale(1.0287 1)" font-family="Liberation Sans" font-style="normal" font-weight="normal" font-size="23.30" fill="#000" stroke="#000" stroke-width="0.15" style="white-space:pre">3000 m/s)</text>
<text transform="translate(774.64 1060.10) scale(0.9512 1)" font-family="Liberation Sans" font-style="normal" font-weight="bold" font-size="23.30" fill="#000" stroke="#000" stroke-width="0.15" style="white-space:pre">Subduction &amp; Deep Seismicity:</text>
<text transform="translate(774.53 1089.96) scale(1.2234 1)" font-family="Liberation Serif" font-style="italic" font-weight="normal" font-size="23.75" fill="#000" stroke="#000" stroke-width="0.22">δ</text>
<text transform="translate(788.06 1090.52) scale(1.2461 1)" font-family="Liberation Serif" font-style="italic" font-weight="normal" font-size="24.83" fill="#000" stroke="#000" stroke-width="0.22">γ</text>
<rect x="811.00" y="1080.80" width="15.80" height="1.80" fill="#000"/><rect x="811.00" y="1085.90" width="15.80" height="1.80" fill="#000"/>
<text transform="translate(836.46 1089.83) scale(1.1177 1)" font-family="Liberation Serif" font-style="normal" font-weight="normal" font-size="24.71" fill="#000" stroke="#000" stroke-width="0.22">0.0015</text>
<text transform="translate(920.41 1091.00) scale(1.0234 1)" font-family="Liberation Sans" font-style="normal" font-weight="normal" font-size="23.30" fill="#000" stroke="#000" stroke-width="0.15" style="white-space:pre">(Estimated region-to-region</text>
<text transform="translate(775.24 1121.60) scale(1.0373 1)" font-family="Liberation Sans" font-style="normal" font-weight="normal" font-size="23.30" fill="#000" stroke="#000" stroke-width="0.15" style="white-space:pre">variability in anelastic attenuation coefficient)</text>
</svg>
</body></html>
